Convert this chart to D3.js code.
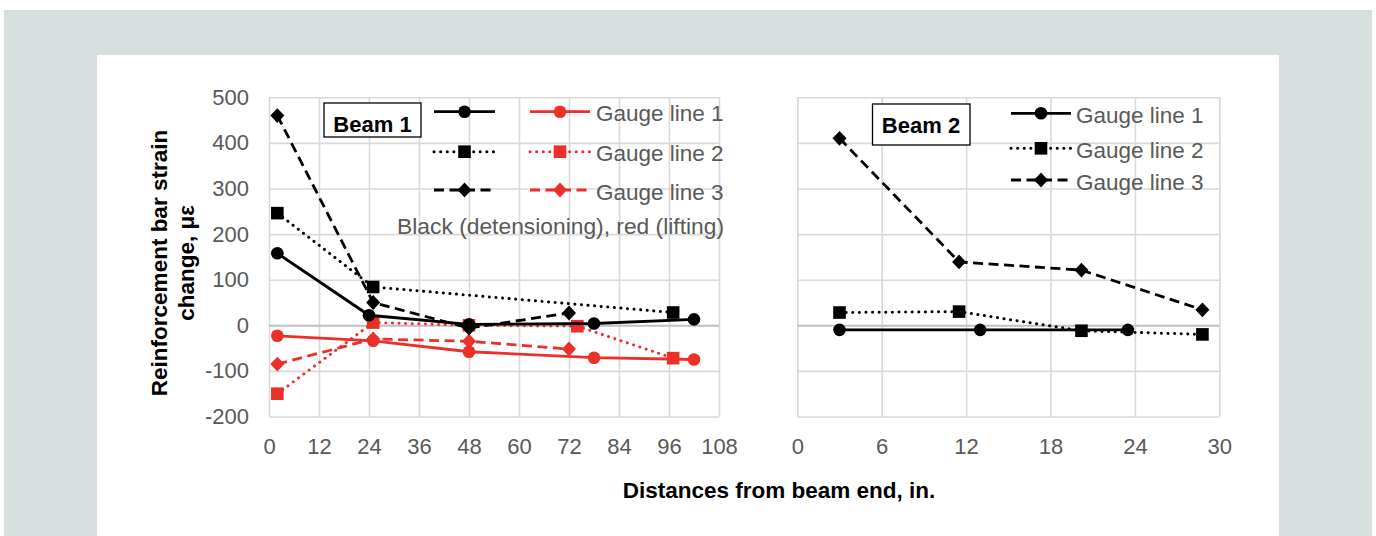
<!DOCTYPE html>
<html><head><meta charset="utf-8">
<script src="https://cdn.jsdelivr.net/npm/d3@7"></script>
<style>
html,body{margin:0;padding:0;background:#fff;}
svg{display:block;font-family:"Liberation Sans",Arial,sans-serif;}
</style></head>
<body>
<svg id="c" width="1376" height="536"></svg>
<script>
// ---- data ----
const yTicks = [-200,-100,0,100,200,300,400,500];
const xTicksBeam1 = [0,12,24,36,48,60,72,84,96,108];
const xTicksBeam2 = [0,6,12,18,24,30];

// Beam 1 - detensioning (black)
const b1DetG1 = [[2,158],[24,22],[48,2],[78,4],[102,13]];
const b1DetG2 = [[2,246],[25,84],[97,28]];
const b1DetG3 = [[2,460],[25,50],[48,-6],[72,27]];
// Beam 1 - lifting (red)
const b1LiftG1 = [[2,-23],[25,-34],[48,-58],[78,-71],[102,-75]];
const b1LiftG2 = [[2,-150],[25,6],[48,0],[74,-2],[97,-72]];
const b1LiftG3 = [[2,-85],[25,-30],[48,-35],[72,-52]];

// Beam 2
const b2G1 = [[3,-10],[13,-10],[23.5,-10]];
const b2G2 = [[3,28],[11.5,30],[20.2,-12],[28.8,-20]];
const b2G3 = [[3,410],[11.5,139],[20.2,121],[28.8,34]];

const legendLabels = ["Gauge line 1","Gauge line 2","Gauge line 3"];

// ---- drawing ----
const svg = d3.select("#c");
const RED = "#ec2f28", BLK = "#000";
const GRID = "#d9d9d9", ZERO = "#bfbfbf", TXT = "#595959";
const FS = 22, FL = 22.5;

svg.append("rect").attr("x",4).attr("y",10).attr("width",1368).attr("height",526).attr("fill","#d6dfdd");
svg.append("rect").attr("x",97).attr("y",55).attr("width",1182).attr("height",481).attr("fill","#fff");

const y = d3.scaleLinear().domain([-200,500]).range([416.5,97.3]);
const xL = d3.scaleLinear().domain([0,108]).range([269,719]);
const xR = d3.scaleLinear().domain([0,30]).range([797.3,1219.3]);
const fmt = d => String(d);

function panel(x, xt, showY){
  const g = svg.append("g");
  g.append("g").attr("transform",`translate(0,${y(-200)})`)
    .call(d3.axisBottom(x).tickValues(xt).tickSize(-(y(-200)-y(500))).tickFormat(""))
    .call(s=>{s.select(".domain").remove(); s.selectAll("line").attr("stroke",GRID).attr("stroke-width",1.6);});
  g.append("g").attr("transform",`translate(${x.range()[0]},0)`)
    .call(d3.axisLeft(y).tickValues(yTicks).tickSize(-(x.range()[1]-x.range()[0])).tickFormat(""))
    .call(s=>{s.select(".domain").remove(); s.selectAll("line").attr("stroke",d=>d===0?ZERO:GRID).attr("stroke-width",d=>d===0?2:1.6);});
  g.append("g").attr("transform",`translate(0,${y(-200)})`)
    .call(d3.axisBottom(x).tickValues(xt).tickSize(0).tickPadding(22).tickFormat(fmt))
    .call(s=>{s.select(".domain").remove(); s.selectAll("text").attr("fill",TXT).attr("font-size",FS).attr("font-family","Liberation Sans, Arial, sans-serif");});
  if(showY){
    g.append("g").attr("transform",`translate(${x.range()[0]},0)`)
      .call(d3.axisLeft(y).tickValues(yTicks).tickSize(0).tickPadding(20).tickFormat(fmt))
      .call(s=>{s.select(".domain").remove(); s.selectAll("text").attr("fill",TXT).attr("font-size",FS).attr("font-family","Liberation Sans, Arial, sans-serif");});
  }
  return g;
}

function marker(g, type, cx, cy, color){
  if(type==="circle") g.append("circle").attr("cx",cx).attr("cy",cy).attr("r",6.3).attr("fill",color);
  else if(type==="square") g.append("rect").attr("x",cx-6.3).attr("y",cy-6.3).attr("width",12.6).attr("height",12.6).attr("fill",color);
  else g.append("path").attr("d",`M${cx},${cy-7.4}L${cx+7},${cy}L${cx},${cy+7.4}L${cx-7},${cy}Z`).attr("fill",color);
}

function styleStroke(p, color, dash){
  p.attr("stroke",color).attr("stroke-width",dash==="dotted"?3:2.8).attr("fill","none");
  if(dash==="dotted") p.attr("stroke-dasharray","0.1 6.5").attr("stroke-linecap","round");
  else if(dash==="dashed") p.attr("stroke-dasharray","10 5.5");
}

function series(x, data, color, dash, mtype){
  const g = svg.append("g");
  const line = d3.line().x(d=>x(d[0])).y(d=>y(d[1]));
  styleStroke(g.append("path").attr("d",line(data)), color, dash);
  data.forEach(d=>marker(g, mtype, x(d[0]), y(d[1]), color));
}

function legendItem(x1, x2, cy, color, dash, mtype){
  const g = svg.append("g");
  styleStroke(g.append("line").attr("x1",x1).attr("x2",x2).attr("y1",cy).attr("y2",cy), color, dash);
  marker(g, mtype, (x1+x2)/2, cy, color);
}

panel(xL, xTicksBeam1, true);
panel(xR, xTicksBeam2, false);

series(xL, b1LiftG1, RED, "solid", "circle");
series(xL, b1LiftG2, RED, "dotted", "square");
series(xL, b1LiftG3, RED, "dashed", "diamond");
series(xL, b1DetG1, BLK, "solid", "circle");
series(xL, b1DetG2, BLK, "dotted", "square");
series(xL, b1DetG3, BLK, "dashed", "diamond");
series(xR, b2G1, BLK, "solid", "circle");
series(xR, b2G2, BLK, "dotted", "square");
series(xR, b2G3, BLK, "dashed", "diamond");

const dashes = ["solid","dotted","dashed"], marks = ["circle","square","diamond"];

// Beam 1 legend
svg.append("rect").attr("x",324).attr("y",103).attr("width",97).attr("height",34).attr("fill","#fff").attr("stroke","#000").attr("stroke-width",1.3);
svg.append("text").attr("x",372.5).attr("y",132).attr("text-anchor","middle").attr("font-size",FS).attr("font-weight","bold").text("Beam 1");
const rowsL = [111.7,151.7,190];
rowsL.forEach((ry,i)=>{
  legendItem(434,495,ry,BLK,dashes[i],marks[i]);
  legendItem(530,590,ry,RED,dashes[i],marks[i]);
  svg.append("text").attr("x",596).attr("y",ry+9.5).attr("font-size",FL).attr("fill",TXT).text(legendLabels[i]);
});
svg.append("text").attr("x",724).attr("y",234).attr("text-anchor","end").attr("font-size",22.8).attr("fill",TXT).text("Black (detensioning), red (lifting)");

// Beam 2 legend
svg.append("rect").attr("x",872.5).attr("y",104).attr("width",97.5).attr("height",41).attr("fill","#fff").attr("stroke","#000").attr("stroke-width",1.3);
svg.append("text").attr("x",921).attr("y",132.5).attr("text-anchor","middle").attr("font-size",FS).attr("font-weight","bold").text("Beam 2");
const rowsR = [113.3,148.3,180];
rowsR.forEach((ry,i)=>{
  legendItem(1011,1071,ry,BLK,dashes[i],marks[i]);
  svg.append("text").attr("x",1076).attr("y",ry+9.5).attr("font-size",FL).attr("fill",TXT).text(legendLabels[i]);
});

// Axis titles
const yt = svg.append("text").attr("font-size",FL).attr("font-weight","bold").attr("text-anchor","middle").attr("transform","rotate(-90)");
yt.append("tspan").attr("x",-263).attr("y",167).text("Reinforcement bar strain");
yt.append("tspan").attr("x",-263).attr("y",194).text("change, με");
svg.append("text").attr("x",779).attr("y",498).attr("text-anchor","middle").attr("font-size",FL).attr("font-weight","bold").text("Distances from beam end, in.");
</script>
</body></html>
